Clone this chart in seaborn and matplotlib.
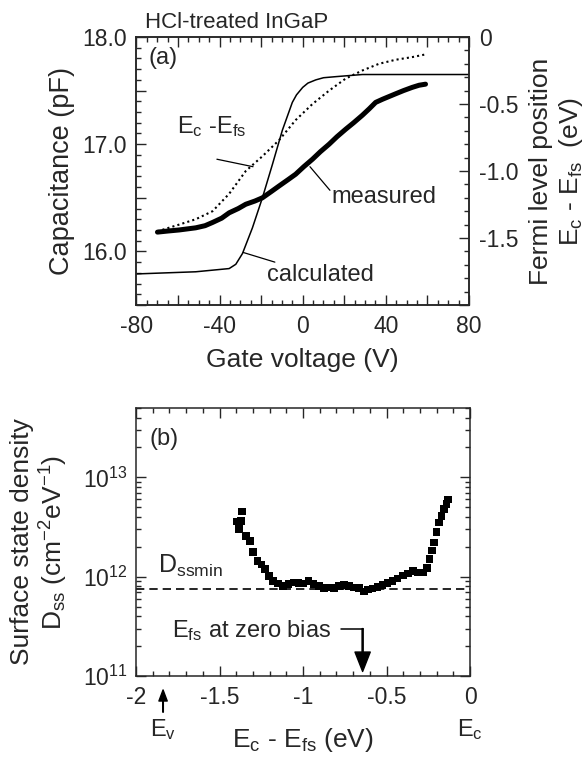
import numpy as np
import matplotlib
matplotlib.use("Agg")
import matplotlib.pyplot as plt
import seaborn as sns
from matplotlib.ticker import MultipleLocator, FuncFormatter, LogLocator, LogFormatterMathtext, NullFormatter

# panel (a): C-V curves
gate_meas = [-69.9, -65.0, -59.5, -51.5, -47.0, -43.4, -39.0, -35.4, -31.0, -27.4, -23.0,
             -19.4, -15.0, -11.4, -7.0, -3.4, 0.5, 4.7, 8.5, 12.7, 16.5, 20.7, 24.5,
             28.7, 32.0, 35.1, 38.5, 44.7, 48.5, 52.7, 56.0, 59.1]
cap_meas = [16.18, 16.19, 16.20, 16.22, 16.24, 16.27, 16.31, 16.36, 16.40, 16.44, 16.47,
            16.50, 16.56, 16.61, 16.67, 16.72, 16.79, 16.86, 16.93, 17.00, 17.07, 17.14, 17.20,
            17.27, 17.33, 17.39, 17.42, 17.47, 17.50, 17.53, 17.55, 17.56]

gate_calc = [-80, -51.5, -35.4, -32.2, -29.0, -24.2, -19.4, -14.6, -9.8, -5.0,
             -3.0, 0.0, 2.5, 6.3, 10.0, 15.9, 28.7, 80]
cap_calc = [15.79, 15.81, 15.84, 15.88, 15.98, 16.22, 16.50, 16.81, 17.13, 17.39,
            17.46, 17.53, 17.57, 17.60, 17.62, 17.63, 17.65, 17.65]

gate_fermi = [-69.9, -59.5, -51.5, -43.4, -35.4, -27.4, -19.4, -11.4, -3.4, 4.7,
              12.7, 20.7, 28.7, 36.7, 44.7, 52.7, 59.1]
fermi_pos = [-1.45, -1.40, -1.36, -1.30, -1.17, -1.00, -0.89, -0.77, -0.62, -0.50,
             -0.40, -0.31, -0.25, -0.20, -0.17, -0.15, -0.13]

# panel (b): surface state density
e_dss = [-1.394, -1.384, -1.370, -1.366, -1.343, -1.319, -1.299, -1.273, -1.249, -1.229,
         -1.202, -1.178, -1.148, -1.118, -1.088, -1.057, -1.027, -0.997, -0.967, -0.936,
         -0.906, -0.876, -0.846, -0.816, -0.785, -0.755, -0.725, -0.695, -0.665, -0.634,
         -0.610, -0.584, -0.554, -0.524, -0.493, -0.463, -0.433, -0.403, -0.373, -0.342,
         -0.312, -0.282, -0.258, -0.242, -0.228, -0.215, -0.201, -0.187, -0.171, -0.155,
         -0.141, -0.131]
dss = [3.58e12, 3.02e12, 3.66e12, 4.52e12, 2.58e12, 2.29e12, 1.78e12, 1.44e12, 1.33e12, 1.19e12,
       1.02e12, 9.0e11, 8.5e11, 8.0e11, 8.4e11, 8.7e11, 8.6e11, 8.5e11, 9.0e11, 8.4e11,
       8.0e11, 7.7e11, 7.8e11, 7.7e11, 8.0e11, 8.3e11, 8.0e11, 7.8e11, 7.7e11, 7.1e11,
       7.4e11, 7.6e11, 7.9e11, 8.2e11, 8.6e11, 9.0e11, 9.6e11, 1.03e12, 1.08e12, 1.14e12,
       1.10e12, 1.10e12, 1.23e12, 1.50e12, 1.83e12, 2.2e12, 2.8e12, 3.5e12, 4.1e12, 4.8e12,
       5.4e12, 6.0e12]
dss_min = 7.6e11
efs_zero_bias = -0.643
e_v = -1.838

sns.set_theme(style="ticks")
plt.rcParams["font.family"] = ["Liberation Sans", "DejaVu Sans"]
plt.rcParams["mathtext.fontset"] = "custom"
plt.rcParams["mathtext.rm"] = "Liberation Sans"
plt.rcParams["mathtext.it"] = "Liberation Sans"
plt.rcParams["mathtext.bf"] = "Liberation Sans:bold"
plt.rcParams["axes.linewidth"] = 1.1

TICK = 16.5
LAB = 19
ANN = 17

fig = plt.figure(figsize=(5.84, 7.58), dpi=100)
ax = fig.add_axes([0.2337, 0.5976, 0.5693, 0.3536])
ax2 = ax.twinx()
axb = fig.add_axes([0.2329, 0.1082, 0.5719, 0.3536])

# ---- panel (a)
sns.lineplot(x=gate_calc, y=cap_calc, ax=ax, color="black", lw=1.1)
sns.lineplot(x=gate_meas, y=cap_meas, ax=ax, color="black", lw=3.6)
sns.lineplot(x=gate_fermi, y=fermi_pos, ax=ax2, color="black", lw=1.5,
             linestyle=(0, (1.0, 1.5)))

ax.set_xlim(-80, 80)
ax.set_ylim(15.5, 18.0)
ax2.set_ylim(-2.0, 0.0)

ax.xaxis.set_major_locator(MultipleLocator(20))
ax.xaxis.set_minor_locator(MultipleLocator(5))
ax.xaxis.set_major_formatter(FuncFormatter(lambda v, p: f"{v:.0f}" if abs(v) % 40 < 1e-6 else ""))
ax.yaxis.set_major_locator(MultipleLocator(0.5))
ax.yaxis.set_minor_locator(MultipleLocator(0.1))
ax.yaxis.set_major_formatter(FuncFormatter(lambda v, p: f"{v:.1f}" if abs(v - round(v)) < 1e-6 and v > 15.9 else ""))
ax2.yaxis.set_major_locator(MultipleLocator(0.5))
ax2.yaxis.set_minor_locator(MultipleLocator(0.1))
ax2.yaxis.set_major_formatter(FuncFormatter(lambda v, p: "0" if abs(v) < 1e-6 else ("" if v < -1.9 else f"{v:.1f}")))

ax.tick_params(which="both", direction="in", top=True, right=False, labelsize=TICK, pad=7, width=1.0)
ax.tick_params(which="major", length=7)
ax.tick_params(which="minor", length=3.5)
ax2.tick_params(which="both", direction="in", labelsize=TICK, pad=7, width=1.0)
ax2.tick_params(which="major", length=7)
ax2.tick_params(which="minor", length=3.5)

ax.set_xlabel("Gate voltage (V)", fontsize=LAB)
ax.xaxis.set_label_coords(0.5, -0.205)
ax.xaxis.label.set_va("center")
ax.set_ylabel("Capacitance (pF)", fontsize=LAB + 0.5)
ax.yaxis.set_label_coords(-0.224, 0.5)
ax.yaxis.label.set_va("center")
ax2.set_ylabel("Fermi level position\n$\\mathrm{E_c}$ - $\\mathrm{E_{fs}}$  (eV)", fontsize=LAB,
               linespacing=1.15)
ax2.yaxis.set_label_coords(1.265, 0.5)
ax2.yaxis.label.set_va("center")

fig.text(145 / 584, 1 - 28 / 758, "HCl-treated InGaP", fontsize=16, va="baseline", ha="left")
ax.text(0.08, 0.92, "(a)", transform=ax.transAxes, fontsize=ANN, ha="center", va="center")

ax.text(-60.5, 17.105, "$\\mathrm{E_c}$ -$\\mathrm{E_{fs}}$", fontsize=ANN, va="baseline")
ax.plot([-41.3, -23.9], [16.86, 16.79], color="black", lw=0.9)
ax.text(13.9, 16.45, "measured", fontsize=ANN, va="baseline")
ax.plot([3.5, 13.1], [16.79, 16.57], color="black", lw=0.9)
ax.text(-17.35, 15.72, "calculated", fontsize=ANN, va="baseline")
ax.plot([-28.6, -13.4], [15.99, 15.90], color="black", lw=0.9)

# ---- panel (b)
sns.scatterplot(x=e_dss, y=dss, ax=axb, marker="s", s=30, color="black", edgecolor="none")
axb.axhline(dss_min, color="black", lw=1.2, linestyle=(0, (5, 3)))
axb.set_yscale("log")
axb.set_xlim(-2, 0)
axb.set_ylim(1e11, 5e13)
axb.xaxis.set_major_locator(MultipleLocator(0.5))
axb.xaxis.set_minor_locator(MultipleLocator(0.1))
axb.xaxis.set_major_formatter(FuncFormatter(lambda v, p: f"{v:g}" if abs(v) > 1e-9 else "0"))
axb.yaxis.set_major_locator(LogLocator(base=10, numticks=10))
axb.yaxis.set_minor_locator(LogLocator(base=10, subs=np.arange(2, 10), numticks=10))
axb.yaxis.set_major_formatter(LogFormatterMathtext())
axb.yaxis.set_minor_formatter(NullFormatter())
axb.tick_params(which="both", direction="in", top=True, right=True, labelsize=TICK, width=1.0)
axb.tick_params(which="major", length=7)
axb.tick_params(which="minor", length=3.5)
axb.tick_params(axis="x", pad=7)
axb.tick_params(axis="y", pad=6)

axb.set_xlabel("$\\mathrm{E_c}$ - $\\mathrm{E_{fs}}$ (eV)", fontsize=LAB)
axb.xaxis.set_label_coords(0.5, -0.24)
axb.xaxis.label.set_va("center")
axb.set_ylabel("Surface state density\n$\\mathrm{D_{ss}}$ ($\\mathrm{cm^{-2}eV^{-1}}$)", fontsize=LAB,
               linespacing=1.15)
axb.yaxis.set_label_coords(-0.287, 0.5)
axb.yaxis.label.set_va("center")

axb.text(0.084, 0.884, "(b)", transform=axb.transAxes, fontsize=ANN, ha="center", va="center")
axb.text(-1.866, 1.1e12, "$\\mathrm{D_{ssmin}}$", fontsize=ANN + 1, va="baseline")
axb.text(-1.786, 2.49e11, "$\\mathrm{E_{fs}}$ at zero bias", fontsize=ANN, va="baseline")
axb.plot([-0.77, efs_zero_bias], [3.0e11, 3.0e11], color="black", lw=1.1)
axb.annotate("", xy=(efs_zero_bias, 1.11e11), xytext=(efs_zero_bias, 3.0e11),
             arrowprops=dict(facecolor="black", edgecolor="black", width=0.8,
                             headwidth=11, headlength=14, shrink=0))

axb.annotate("", xy=(e_v, -0.052), xytext=(e_v, -0.135),
             xycoords=("data", "axes fraction"), textcoords=("data", "axes fraction"),
             annotation_clip=False,
             arrowprops=dict(facecolor="black", edgecolor="black", width=0.4,
                             headwidth=6, headlength=8, shrink=0))
axb.text(e_v, -0.2, "$\\mathrm{E_v}$", transform=axb.get_xaxis_transform(),
         fontsize=ANN, ha="center", va="center")
axb.text(0.0, -0.2, "$\\mathrm{E_c}$", transform=axb.get_xaxis_transform(),
         fontsize=ANN, ha="center", va="center")

fig.savefig("out.png", dpi=100)
